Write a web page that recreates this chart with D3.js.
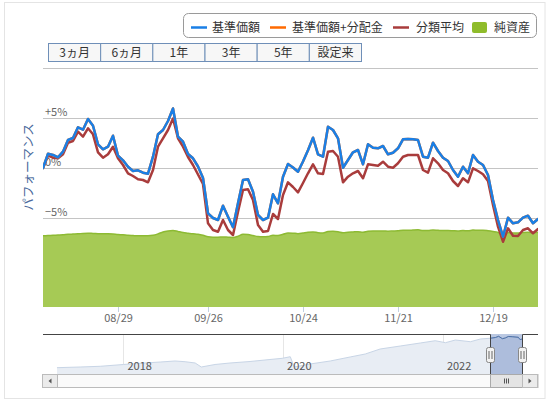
<!DOCTYPE html>
<html><head><meta charset="utf-8">
<script src="https://cdn.jsdelivr.net/npm/d3@7"></script>
<style>
body{margin:0;background:#fff}
svg{display:block}
text{font-family:"Noto Sans CJK JP","Noto Sans",sans-serif}
</style>
</head><body>
<svg id="c" width="556" height="402"></svg>
<script>
// ---------- DATA ----------
const dates = [
"2022-08-05","2022-08-08","2022-08-09","2022-08-10","2022-08-12","2022-08-15","2022-08-16","2022-08-17","2022-08-18","2022-08-19",
"2022-08-22","2022-08-23","2022-08-24","2022-08-25","2022-08-26","2022-08-29","2022-08-30","2022-08-31","2022-09-01","2022-09-02",
"2022-09-05","2022-09-06","2022-09-07","2022-09-08","2022-09-09","2022-09-12","2022-09-13","2022-09-14","2022-09-15","2022-09-16",
"2022-09-20","2022-09-21","2022-09-22","2022-09-26","2022-09-27","2022-09-28","2022-09-29","2022-09-30","2022-10-03","2022-10-04",
"2022-10-05","2022-10-06","2022-10-07","2022-10-11","2022-10-12","2022-10-13","2022-10-14","2022-10-17","2022-10-18","2022-10-19",
"2022-10-20","2022-10-21","2022-10-24","2022-10-25","2022-10-26","2022-10-27","2022-10-28","2022-10-31","2022-11-01","2022-11-02",
"2022-11-04","2022-11-07","2022-11-08","2022-11-09","2022-11-10","2022-11-11","2022-11-14","2022-11-15","2022-11-16","2022-11-17",
"2022-11-18","2022-11-21","2022-11-22","2022-11-24","2022-11-25","2022-11-28","2022-11-29","2022-11-30","2022-12-01","2022-12-02",
"2022-12-05","2022-12-06","2022-12-07","2022-12-08","2022-12-09","2022-12-12","2022-12-13","2022-12-14","2022-12-15","2022-12-16",
"2022-12-19","2022-12-20","2022-12-21","2022-12-22","2022-12-23","2022-12-26","2022-12-27","2022-12-28","2022-12-29","2022-12-30"];

// 基準価額 performance (%)
const navPerf = [
0,1.43,1.30,1.07,1.63,2.80,3.00,4.07,3.83,4.90,
4.23,2.37,1.87,2.13,3.23,1.23,0.77,0.13,-0.30,-0.23,
-0.47,-0.57,1.13,3.37,3.80,4.70,5.95,3.13,2.63,1.40,
0.97,0.15,-1.00,-4.53,-5.00,-5.20,-3.77,-4.87,-5.93,-3.53,
-1.20,-1.13,-2.37,-4.70,-5.20,-4.97,-2.63,-3.53,-0.87,0.40,
0.05,-0.37,0.65,1.77,3.03,1.37,1.13,4.13,3.80,2.97,
0.03,0.80,1.57,1.80,0.37,2.37,2.03,1.97,2.20,1.37,
1.53,1.97,2.87,2.90,2.87,2.80,1.13,1.03,2.53,1.70,
1.03,0.70,-0.20,-0.87,0.13,-0.53,1.30,0.63,0.30,-0.70,
-3.20,-5.20,-6.87,-4.97,-5.53,-5.43,-4.97,-4.77,-5.53,-5.10];

// 基準価額+分配金 performance (%) (no distributions in period)
const navDistPerf = [
0,1.43,1.30,1.07,1.63,2.80,3.00,4.07,3.83,4.90,
4.23,2.37,1.87,2.13,3.23,1.23,0.77,0.13,-0.30,-0.23,
-0.47,-0.57,1.13,3.37,3.80,4.70,5.95,3.13,2.63,1.40,
0.97,0.15,-1.00,-4.53,-5.00,-5.20,-3.77,-4.87,-5.93,-3.53,
-1.20,-1.13,-2.37,-4.70,-5.20,-4.97,-2.63,-3.53,-0.87,0.40,
0.05,-0.37,0.65,1.77,3.03,1.37,1.13,4.13,3.80,2.97,
0.03,0.80,1.57,1.80,0.37,2.37,2.03,1.97,2.20,1.37,
1.53,1.97,2.87,2.90,2.87,2.80,1.13,1.03,2.53,1.70,
1.03,0.70,-0.20,-0.87,0.13,-0.53,1.30,0.63,0.30,-0.70,
-3.20,-5.20,-6.87,-4.97,-5.53,-5.43,-4.97,-4.77,-5.53,-5.10];

// 分類平均 performance (%)
const catAvg = [
0,1.23,1.03,0.97,1.37,2.53,2.70,3.63,3.13,3.97,
3.37,1.57,1.03,1.37,2.13,0.97,0.30,-0.53,-0.80,-1.13,
-1.20,-1.43,-0.20,2.13,2.97,3.80,4.95,2.97,2.13,1.10,
0.30,-0.65,-1.60,-5.53,-6.20,-6.37,-5.20,-6.20,-6.70,-4.37,
-2.20,-2.13,-3.20,-5.70,-6.37,-6.30,-4.60,-5.10,-2.70,-1.43,
-1.90,-2.43,-1.50,-0.53,0.37,-0.53,-0.60,1.63,1.70,1.13,
-1.43,-0.87,-0.53,-0.30,-1.03,0.37,0.30,0.23,0.63,0.13,
0.03,0.47,1.13,1.30,1.30,1.30,-0.20,-0.47,0.97,0.47,
-0.20,-0.53,-1.30,-1.80,-1.03,-1.43,-0.03,-0.30,-0.63,-1.30,
-3.70,-5.87,-7.37,-6.03,-6.77,-6.80,-6.20,-6.03,-6.53,-6.10];

// 純資産 (億円)
const netAssets = [
298,299,300,301,302,304,305,306,308,309,
308,307,306,306,305,303,302,300,299,298,
298,298,300,306,314,318,320,316,312,309,
306,304,300,294,292,292,293,292,291,296,
304,303,299,295,294,295,300,299,304,310,
309,307,310,313,314,311,310,316,317,315,
311,313,314,315,313,317,318,318,318,317,
318,319,321,321,322,323,320,320,322,321,
320,320,319,318,320,319,322,321,321,319,
316,312,308,311,310,310,312,313,311,313];

const gridTicks = [10,5,0,-5,-10];
const labelTicks = [5,0,-5];
const xTickDates = ["2022-08-29","2022-09-26","2022-10-24","2022-11-21","2022-12-19"];
const rangeButtons = ["3ヵ月","6ヵ月","1年","3年","5年","設定来"];
const seriesNames = ["基準価額","基準価額+分配金","分類平均","純資産"];
const yTitle = "パフォーマンス";

// navigator (long history of 基準価額, 円)
const histDates = ["2017-03-03","2017-06-17","2017-09-17","2018-01-01","2018-03-18","2018-06-18","2018-08-25","2018-10-10","2018-11-25","2018-12-23",
"2019-02-24","2019-05-03","2019-08-03","2019-11-02","2019-12-28","2020-02-03","2020-02-21","2020-03-18","2020-05-04","2020-08-04",
"2020-11-03","2021-01-11","2021-03-20","2021-06-20","2021-09-20","2021-11-27","2022-01-13","2022-02-27","2022-05-07","2022-06-22",
"2022-08-05","2022-08-29","2022-09-13","2022-09-30","2022-10-13","2022-10-27","2022-11-14","2022-12-12","2022-12-20","2022-12-30"];
const histValues = [9840,9970,10110,10460,10690,10940,11140,11000,10750,9970,
10460,10750,11040,11430,11660,11970,9970,10170,10560,11140,
11920,12500,13470,14050,14640,15080,14700,15220,14890,15420,
15560,15700,15940,15480,15610,15900,15860,15750,15300,15420];
const histYears = ["2018-01-01","2020-01-01","2022-01-01"];
const histLabels = ["2018","2020","2022"];
const histDomain = ["2016-12-29","2023-03-12"];

// ---------- DRAW ----------
const svg = d3.select("#c");
const C = {blue:"#1a7fe6", orange:"#ff6a00", red:"#a93c3c", green:"#a6ca55", greenLine:"#8dba33"};
const L = 43, R = 538, T = 68, B = 307;

// container
svg.append("rect").attr("x",4.5).attr("y",2.5).attr("width",540.5).attr("height",396)
  .attr("fill","none").attr("stroke","#e4e4e4");

// legend
const lg = svg.append("g");
lg.append("rect").attr("x",183.5).attr("y",13.5).attr("width",353).attr("height",24).attr("rx",5)
  .attr("fill","#fff").attr("stroke","#9a9a9a");
const legendItems = [
  {name:seriesNames[0], color:C.blue, x:191, tx:212, type:"line"},
  {name:seriesNames[1], color:C.orange, x:270, tx:292, type:"line"},
  {name:seriesNames[2], color:C.red, x:393, tx:416, type:"line"},
  {name:seriesNames[3], color:C.green, x:472, tx:494, type:"box"}];
legendItems.forEach(it=>{
  if(it.type==="line"){
    lg.append("line").attr("x1",it.x).attr("x2",it.x+16).attr("y1",27.5).attr("y2",27.5)
      .attr("stroke",it.color).attr("stroke-width",2.5);
  } else {
    lg.append("rect").attr("x",it.x).attr("y",22).attr("width",15).attr("height",11).attr("rx",2)
      .attr("fill","#8fbc2b");
  }
  lg.append("text").attr("x",it.tx).attr("y",32).attr("font-size",12).attr("fill","#333").text(it.name);
});

// range buttons
const bx = d3.scaleBand().domain(rangeButtons).range([48.5,361.5]);
const bg = svg.append("g");
rangeButtons.forEach(b=>{
  bg.append("rect").attr("x",bx(b)).attr("y",43.5).attr("width",bx.bandwidth()).attr("height",18)
    .attr("fill","#f7f7f7").attr("stroke","#6f8fb8");
  bg.append("text").attr("x",bx(b)+bx.bandwidth()/2).attr("y",57).attr("text-anchor","middle")
    .attr("font-size",12).attr("fill","#333").text(b);
});

// scales
const x = d3.scalePoint().domain(dates).range([L,R]);
const y = d3.scaleLinear().domain([-13.9,10]).range([B,T]);
const yA = d3.scaleLinear().domain([0,1000]).range([B,T]);

// grid
svg.append("g").selectAll("line").data(gridTicks).join("line")
  .attr("x1",L).attr("x2",R).attr("y1",d=>Math.round(y(d))+0.5).attr("y2",d=>Math.round(y(d))+0.5)
  .attr("stroke","#c4c4c4").attr("stroke-width",1);

// y labels
svg.append("g").selectAll("text").data(labelTicks).join("text")
  .attr("x",45).attr("y",d=>y(d)-2.5).attr("font-size",11).attr("fill","#666")
  .text(d=> d>0 ? "+"+d+"%" : d<0 ? "−"+Math.abs(d)+"%" : "0%");

// y title
svg.append("text").attr("transform","translate(33,167) rotate(-90)").attr("text-anchor","middle")
  .attr("font-size",12.5).attr("fill","#4a6a9c").text(yTitle);

// clip
svg.append("clipPath").attr("id","pc").append("rect").attr("x",L).attr("y",T-10).attr("width",R-L).attr("height",B-T+10);
const plot = svg.append("g").attr("clip-path","url(#pc)");

// net assets area
plot.append("path").datum(netAssets)
  .attr("d", d3.area().x((d,i)=>x(dates[i])).y0(B).y1(d=>yA(d)).curve(d3.curveMonotoneX))
  .attr("fill",C.green);
plot.append("path").datum(netAssets)
  .attr("d", d3.line().x((d,i)=>x(dates[i])).y(d=>yA(d)).curve(d3.curveMonotoneX))
  .attr("fill","none").attr("stroke",C.greenLine).attr("stroke-width",1.5);

const line = d3.line().x((d,i)=>x(dates[i])).y(d=>y(d));
[[catAvg,C.red],[navDistPerf,C.orange],[navPerf,C.blue]].forEach(([arr,col])=>{
  plot.append("path").datum(arr).attr("d",line).attr("fill","none").attr("stroke",col)
    .attr("stroke-width",2.5).attr("stroke-linejoin","round").attr("stroke-linecap","round");
});

// x axis
const xa = svg.append("g").attr("transform",`translate(0,${B})`)
  .call(d3.axisBottom(x).tickValues(xTickDates).tickSize(5).tickPadding(2)
    .tickFormat(d=>d.slice(5).replace("-","/")));
xa.select(".domain").remove();
xa.selectAll(".tick line").attr("stroke","#c0d0e0");
xa.selectAll(".tick text").attr("font-size",11).attr("fill","#666")
  .attr("font-family",'"Noto Sans CJK JP","Noto Sans",sans-serif');

// ---------- navigator ----------
const NT = 334, NB = 374;
const xn = d3.scaleTime().domain(histDomain.map(d=>new Date(d))).range([L,R]);
const yn = d3.scaleLinear().domain([9000,16000]).range([372,336]);
const hd = histDates.map(d=>new Date(d));
const nav = svg.append("g");
nav.selectAll("line.yg").data(histYears).join("line")
  .attr("x1",d=>Math.round(xn(new Date(d)))+0.5).attr("x2",d=>Math.round(xn(new Date(d)))+0.5)
  .attr("y1",NT).attr("y2",NB).attr("stroke","#e6e6e6");
nav.append("path").datum(histValues)
  .attr("d",d3.area().x((d,i)=>xn(hd[i])).y0(NB).y1(d=>yn(d)))
  .attr("fill","#e8edf4");
nav.append("path").datum(histValues)
  .attr("d",d3.line().x((d,i)=>xn(hd[i])).y(d=>yn(d)))
  .attr("fill","none").attr("stroke","#c8d5e6").attr("stroke-width",1);
nav.selectAll("text.yl").data(histYears).join("text")
  .attr("x",d=>xn(new Date(d))+4).attr("y",370).attr("font-size",11).attr("fill","#555")
  .text((d,i)=>histLabels[i]);
const s0 = xn(new Date(dates[0])), s1 = xn(new Date(dates[dates.length-1]));
nav.append("rect").attr("x",s0).attr("y",NT).attr("width",s1-s0).attr("height",NB-NT)
  .attr("fill","rgba(90,125,185,0.42)");
nav.append("clipPath").attr("id","sc").append("rect").attr("x",s0).attr("y",NT).attr("width",s1-s0).attr("height",NB-NT);
nav.append("path").datum(histValues).attr("clip-path","url(#sc)")
  .attr("d",d3.line().x((d,i)=>xn(hd[i])).y(d=>yn(d)))
  .attr("fill","none").attr("stroke","#4b6fa6").attr("stroke-width",1);
nav.append("path").attr("d",`M${L},${NT+0.5}H${Math.round(s0)+0.5}V${NB}M${Math.round(s1)+0.5},${NB}V${NT+0.5}H${R}`)
  .attr("fill","none").attr("stroke","#444").attr("stroke-width",1);

// scrollbar
const SY = 374.5, SH = 13;
nav.append("rect").attr("x",42.5).attr("y",SY).attr("width",R-42.5).attr("height",SH)
  .attr("fill","#fafafa").attr("stroke","#bbb");
nav.append("rect").attr("x",Math.round(s0)+0.5).attr("y",SY).attr("width",Math.round(s1)-Math.round(s0)).attr("height",SH)
  .attr("fill","#e4e4e4").attr("stroke","#aaa");
const gx = (s0+s1)/2;
[-2,0,2].forEach(o=>nav.append("line").attr("x1",Math.round(gx+o)+0.5).attr("x2",Math.round(gx+o)+0.5)
  .attr("y1",SY+4).attr("y2",SY+SH-4).attr("stroke","#555"));
[[42.5,"l"],[Math.round(s1)+0.5,"r"]].forEach(([bxp,dir])=>{
  nav.append("rect").attr("x",bxp).attr("y",SY).attr("width",15).attr("height",SH)
    .attr("fill","#ebebeb").attr("stroke","#bbb");
  const cx = bxp+7.5, cy = SY+SH/2;
  const p = dir==="l" ? `M${cx+1.5},${cy-2.5}L${cx-1.5},${cy}L${cx+1.5},${cy+2.5}Z` : `M${cx-1.5},${cy-2.5}L${cx+1.5},${cy}L${cx-1.5},${cy+2.5}Z`;
  nav.append("path").attr("d",p).attr("fill","#555");
});
[s0,s1].forEach(hx=>{
  const hxr = Math.round(hx)+0.5;
  nav.append("rect").attr("x",hxr-4).attr("y",347.5).attr("width",8).attr("height",15).attr("rx",2)
    .attr("fill","#f2f2f2").attr("stroke","#888");
  [-1.5,1.5].forEach(o=>nav.append("line").attr("x1",hxr+o).attr("x2",hxr+o).attr("y1",351).attr("y2",359).attr("stroke","#666"));
});
</script>
</body></html>
